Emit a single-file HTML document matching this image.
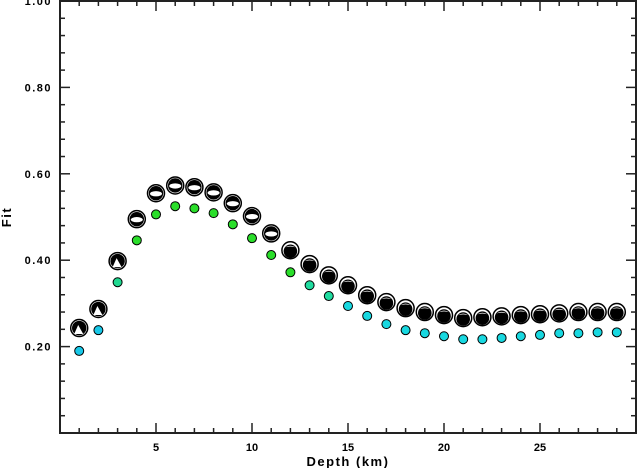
<!DOCTYPE html>
<html><head><meta charset="utf-8"><style>
html,body{margin:0;padding:0;background:#fff}
svg{display:block;font-family:"Liberation Sans",sans-serif}
</style></head><body>
<svg id="chart" width="637" height="468" viewBox="0 0 637 468" xmlns="http://www.w3.org/2000/svg">
<g id="axes"></g>
<g id="marks"></g>
<text x="348" y="466" text-anchor="middle" font-size="13" font-weight="bold" letter-spacing="1.5">Depth (km)</text>
<text transform="translate(11,217) rotate(-90)" text-anchor="middle" font-size="13" font-weight="bold" letter-spacing="1.5">Fit</text>
</svg>
<script>
const depths=[1,2,3,4,5,6,7,8,9,10,11,12,13,14,15,16,17,18,19,20,21,22,23,24,25,26,27,28,29];
const mechFit=[0.243,0.287,0.398,0.495,0.555,0.573,0.569,0.557,0.532,0.502,0.462,0.423,0.391,0.365,0.342,0.319,0.303,0.289,0.280,0.273,0.266,0.268,0.270,0.273,0.275,0.277,0.280,0.280,0.280];
const dotFit=[0.190,0.238,0.349,0.446,0.506,0.525,0.520,0.509,0.483,0.451,0.412,0.372,0.342,0.317,0.294,0.271,0.252,0.238,0.231,0.224,0.217,0.217,0.220,0.224,0.227,0.231,0.231,0.233,0.233];
const xTicks=[5,10,15,20,25];
const yTicks=[0.20,0.40,0.60,0.80,1.00];
const yTickLabels=["0.20","0.40","0.60","0.80","1.00"];
const L=60,R=636,T=1,B=433,XMIN=0,XMAX=30,YMIN=0,YMAX=1;
const sx=v=>L+(v-XMIN)/(XMAX-XMIN)*(R-L);
const sy=v=>B-(v-YMIN)/(YMAX-YMIN)*(B-T);
const NS="http://www.w3.org/2000/svg";
function mk(tag,attrs,parent){const e=document.createElementNS(NS,tag);for(const k in attrs)e.setAttribute(k,attrs[k]);parent.appendChild(e);return e;}
const ax=document.getElementById('axes'),mg=document.getElementById('marks');
const frame=mk('rect',{x:L,y:T,width:R-L,height:B-T,fill:'none',stroke:'#222','stroke-width':2},ax);


for(let d=1;d<30;d++){const x=sx(d),len=d%5===0?10:5;
 const t1=mk('line',{x1:x,x2:x,y1:B,y2:B-len,stroke:'#222','stroke-width':1.5},ax);
 
 
 const t2=mk('line',{x1:x,x2:x,y1:T,y2:T+len,stroke:'#222','stroke-width':1.5},ax);
 
 }
xTicks.forEach(v=>{const t=mk('text',{x:sx(v),y:B+18,'text-anchor':'middle','font-size':11,'font-weight':'bold'},ax);t.textContent=String(v);
 
 });
for(let i=1;i<25;i++){const v=i*0.04,y=sy(v),len=i%5===0?10:5;
 const t1=mk('line',{x1:L,x2:L+len,y1:y,y2:y,stroke:'#222','stroke-width':1.5},ax);
 
 
 const t2=mk('line',{x1:R,x2:R-len,y1:y,y2:y,stroke:'#222','stroke-width':1.5},ax);
 
 }
yTicks.forEach((v,i)=>{const t=mk('text',{x:L-8,y:sy(v)+4,'text-anchor':'end','font-size':11,'font-weight':'bold','letter-spacing':1.5},ax);t.textContent=yTickLabels[i];
 
 });
function dotColor(d){if(d<=2)return '#18c8e8';if(d===3)return '#20d890';if(d<=12)return '#2ade2a';if(d<=14)return '#20dca0';return '#18d8e0';}
depths.forEach((d,i)=>{
 const c=mk('circle',{cx:sx(d),cy:sy(dotFit[i]),r:4.5,fill:dotColor(d),stroke:'#000','stroke-width':1},mg);
 
 
});
depths.forEach((d,i)=>{
 const x=sx(d),y=sy(mechFit[i]);
 const g=mk('g',{transform:`translate(${x},${y})`},mg);
 
 
 mk('circle',{cx:0,cy:0,r:8.5,fill:'#fff',stroke:'#000','stroke-width':1.5},g);
 if(d<=3){mk('circle',{cx:0,cy:0,r:7.2,fill:'#000'},g);mk('path',{d:'M-1,-3 L4,6 L-5,6 Z',fill:'#fff'},g);}
 else if(d<=11){mk('circle',{cx:0,cy:0,r:7.2,fill:'#000'},g);mk('ellipse',{cx:0,cy:0.5,rx:6,ry:2.6,fill:'#fff'},g);}
 else{mk('circle',{cx:0,cy:1,r:6.8,fill:'#000'},g);mk('path',{d:'M-5,-3 Q0,-6 5,-3 Q0,-4.5 -5,-3 Z',fill:'#fff'},g);}
});
</script>
</body></html>
